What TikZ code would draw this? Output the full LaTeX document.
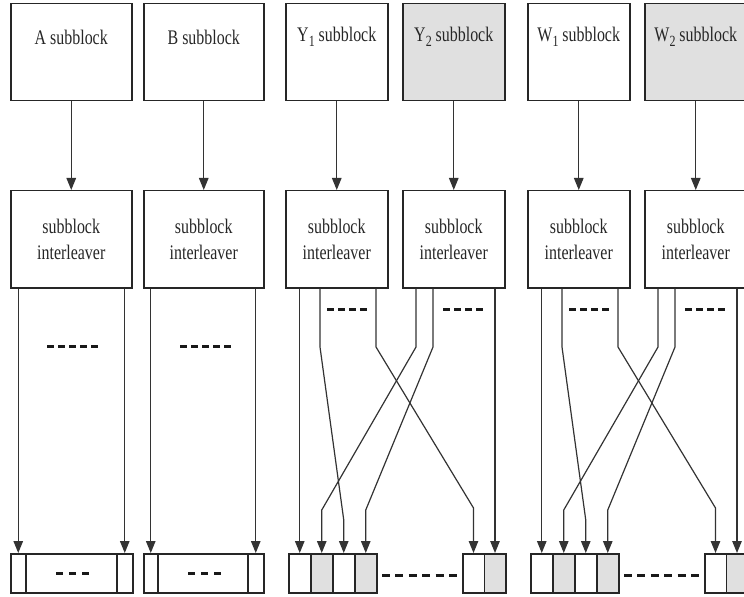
\documentclass[tikz,border=0pt]{standalone}
\usepackage{fontspec}
\setmainfont{Liberation Serif}
\usetikzlibrary{arrows.meta}
% text is set slightly taller than wide
\newcommand\vstr[1]{\scalebox{1}[1.3]{#1}}
% lowered index digit
\newcommand\idx[1]{\raisebox{-3.5bp}{\fontsize{12}{12}\selectfont #1}}
\begin{document}
\begin{tikzpicture}[x=1bp,y=-1bp,
  boxline/.style={draw=black!85,line width=1.5bp},
  topbox/.style={boxline,anchor=north west,minimum width=#1,minimum height=97bp,inner sep=0pt},
  cell/.style={boxline,anchor=north west,minimum width=#1,minimum height=39bp,inner sep=0pt},
  grayfill/.style={fill=black!12},
  lbl/.style={font=\fontsize{16}{26}\selectfont,text=black!85,align=center,inner sep=0pt},
  conn/.style={draw=black!80,line width=1.2bp,-{Triangle[width=9.5bp,length=12bp]}},
  dots/.style={draw=black!90,line width=3bp,dash pattern=on 7bp off 4bp},
  bdots/.style={draw=black!90,line width=3bp,dash pattern=on 7bp off 6bp}]
\useasboundingbox (0,0) rectangle (744,597);
\clip (0,0) rectangle (744,597);

% ---- A and B branches
\node[topbox=121bp] (A) at (10,3) {};
\node[topbox=120bp] (B) at (143,3) {};
\node[lbl] (At) at ([yshift=-34bp]A.north) {\vstr{A subblock}};
\node[lbl] (Bt) at ([yshift=-34bp]B.north) {\vstr{B subblock}};
\node[topbox=121bp,lbl] (AI) at (10,190) {\vstr{subblock}\\\vstr{interleaver}};
\node[topbox=120bp,lbl] (BI) at (143,190) {\vstr{subblock}\\\vstr{interleaver}};
\draw[conn] (A) -- (AI);
\draw[conn] (B) -- (BI);

\node[cell=15bp] (Ac1) at (10,553) {};
\node[cell=91bp] (Ac2) at (25,553) {};
\node[cell=16bp] (Ac3) at (116,553) {};
\node[cell=14bp] (Bc1) at (143,553) {};
\node[cell=90bp] (Bc2) at (157,553) {};
\node[cell=16bp] (Bc3) at (247,553) {};

\draw[conn] (AI.south -| Ac1.north) -- (Ac1.north);
\draw[conn] (AI.south -| Ac3.north) -- (Ac3.north);
\draw[conn] (BI.south -| Bc1.north) -- (Bc1.north);
\draw[conn] (BI.south -| Bc3.north) -- (Bc3.north);

\draw[dots] (47,346) -- (102,346);
\draw[dots] (180,346) -- (233,346);
\draw[bdots] (56,573) -- (90,573);
\draw[bdots] (188,573) -- (221,573);

% ---- Y and W branches (same layout, shifted)
\foreach \g/\dx in {Y/0,W/242} {
\begin{scope}[xshift=\dx bp]
  \node[topbox=102bp] (\g1) at (285,3) {};
  \node[topbox=102bp,grayfill] (\g2) at (402,3) {};
  \node[lbl] (\g t1) at ([yshift=-34bp]\g1.north) {\vstr{\g\idx{1} subblock}};
  \node[lbl] (\g t2) at ([yshift=-34bp]\g2.north) {\vstr{\g\idx{2} subblock}};
  \node[topbox=102bp,lbl] (\g I1) at (285,190) {\vstr{subblock}\\\vstr{interleaver}};
  \node[topbox=102bp,lbl] (\g I2) at (402,190) {\vstr{subblock}\\\vstr{interleaver}};
  \draw[conn] (\g1) -- (\g I1);
  \draw[conn] (\g2) -- (\g I2);

  \node[cell=22bp] (\g c1) at (288,553) {};
  \node[cell=22bp,grayfill] (\g c2) at (310,553) {};
  \node[cell=22bp] (\g c3) at (332,553) {};
  \node[cell=22bp,grayfill] (\g c4) at (354,553) {};
  \node[cell=21.5bp] (\g c5) at (462,553) {};
  \node[cell=21.5bp,grayfill] (\g c6) at (483.5,553) {};

  % bend points of the crossing connectors
  \coordinate (\g p2) at (320,347);
  \coordinate (\g q2) at (0,520);
  \coordinate (\g p3) at (376,347);
  \coordinate (\g q3) at (0,508);
  \coordinate (\g p4) at (416,347);
  \coordinate (\g q4) at (0,510);
  \coordinate (\g p5) at (433,347);
  \coordinate (\g q5) at (0,510);

  \draw[conn] (\g I1.south -| \g c1.north) -- (\g c1.north);
  \draw[conn] (\g I1.south -| \g p2) -- (\g p2) -- (\g c3.north |- \g q2) -- (\g c3.north);
  \draw[conn] (\g I1.south -| \g p3) -- (\g p3) -- (\g c5.north |- \g q3) -- (\g c5.north);
  \draw[conn] (\g I2.south -| \g p4) -- (\g p4) -- (\g c2.north |- \g q4) -- (\g c2.north);
  \draw[conn] (\g I2.south -| \g p5) -- (\g p5) -- (\g c4.north |- \g q5) -- (\g c4.north);
  \draw[conn] (\g I2.south -| \g c6.north) -- (\g c6.north);

  \draw[dots] (327,309) -- (370,309);
  \draw[dots] (443,309) -- (486,309);
  \draw[draw=black!90,line width=3bp,dash pattern=on 8bp off 5.4bp] (382,575) -- (458,575);
\end{scope}}
\end{tikzpicture}
\end{document}
